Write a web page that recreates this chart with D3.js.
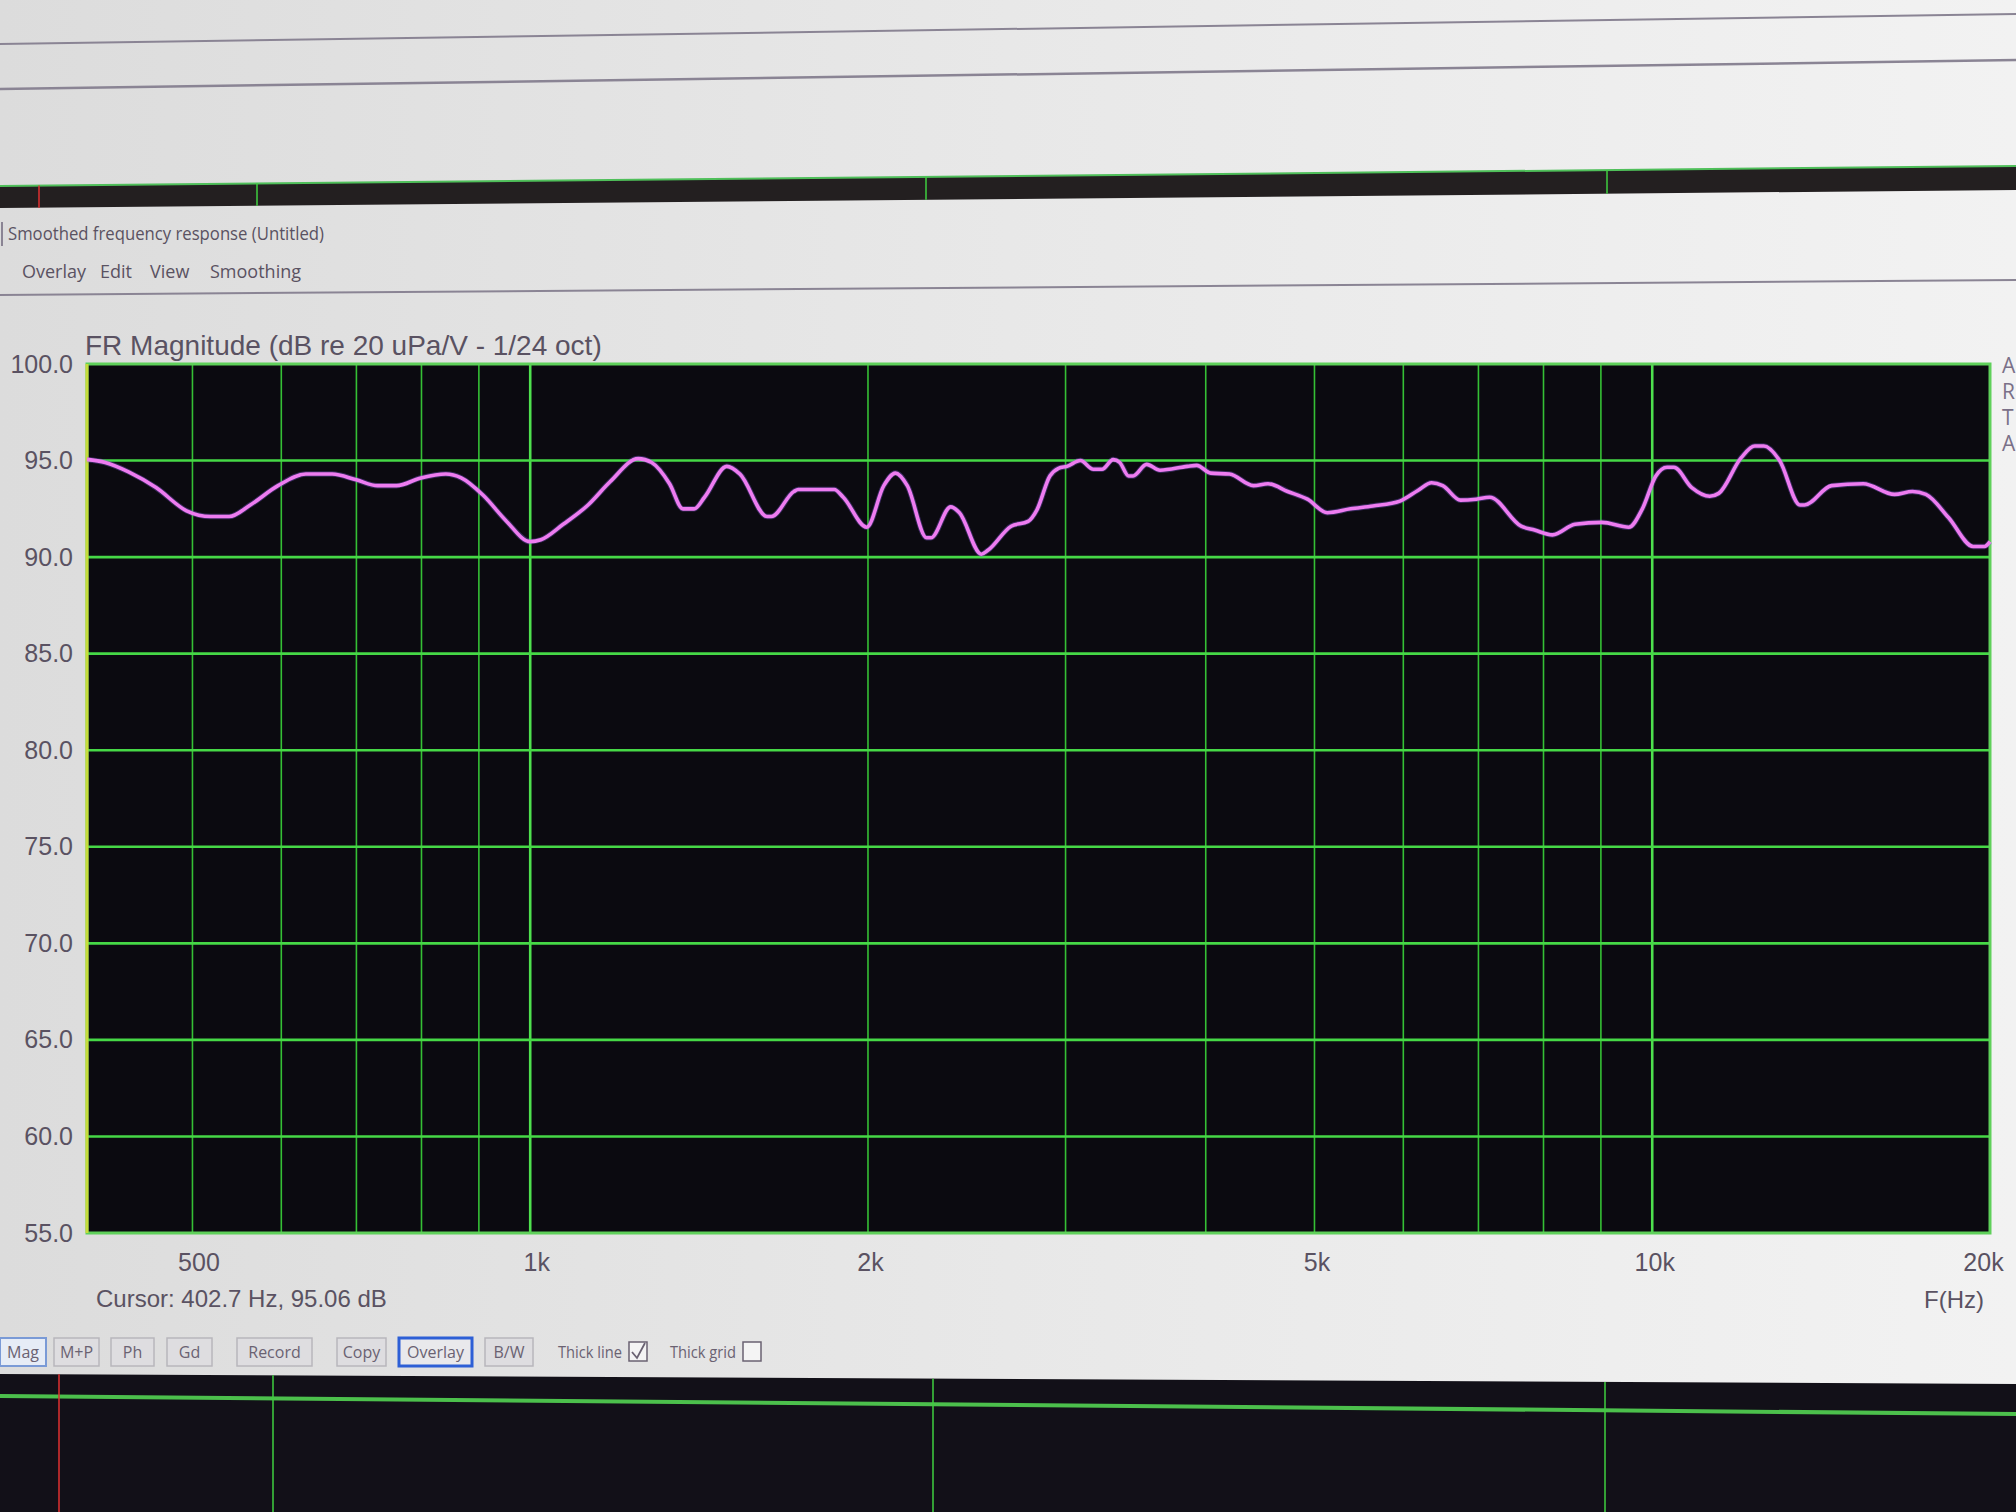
<!DOCTYPE html>
<html>
<head>
<meta charset="utf-8">
<script src="https://cdn.jsdelivr.net/npm/d3@7"></script>
<style>
html,body{margin:0;padding:0;background:#e6e6e6;overflow:hidden;}
svg{display:block;}
</style>
</head>
<body>
<svg id="chart" width="2016" height="1512"></svg>
<script>
// ---- data ----
const freqs = [402.7,418,439,464,494,519,539,563,596,631,666,700,731,760,799,841,868,908,951,1000,1022,1070,1126,1178,1248,1283,1331,1368,1400,1430,1497,1538,1626,1640,1718,1733,1866,1901,1995,2066,2116,2168,2256,2276,2370,2413,2524,2558,2683,2778,2829,2905,2957,3009,3093,3176,3234,3308,3353,3415,3446,3543,3642,3852,3926,4041,4200,4411,4545,4732,4928,5133,5384,5636,5959,6182,6359,6505,6747,6969,7162,7641,7855,8149,8534,9019,9532,9799,10074,10309,10453,10845,11252,11461,12004,12342,12573,12987,13541,13668,14451,15418,16442,17058,17536,18367,19323,19776,20000];
const magsDb = [95.06,94.9,94.4,93.6,92.4,92.1,92.1,92.7,93.7,94.3,94.3,94.0,93.7,93.7,94.1,94.3,94.1,93.2,91.9,90.8,90.9,91.7,92.7,93.9,95.1,94.9,93.8,92.5,92.5,93.1,94.7,94.3,92.1,92.1,93.4,93.5,93.5,93.1,91.55,93.7,94.35,93.7,91.0,91.0,92.6,92.3,90.15,90.35,91.6,91.85,92.45,94.2,94.6,94.7,95.0,94.55,94.55,95.05,94.9,94.2,94.2,94.8,94.5,94.7,94.75,94.35,94.3,93.7,93.8,93.4,93.0,92.3,92.5,92.65,92.9,93.45,93.85,93.7,92.95,93.0,93.1,91.6,91.4,91.15,91.7,91.8,91.55,92.5,94.2,94.65,94.65,93.6,93.15,93.3,95.15,95.75,95.75,95.0,92.7,92.7,93.7,93.8,93.25,93.4,93.25,92.05,90.55,90.55,90.8];
const yTickValues = [55,60,65,70,75,80,85,90,95,100];
const xTickValues = [500,1000,2000,5000,10000,20000];
const xTickLabels = ["500","1k","2k","5k","10k","20k"];
const xGridValues = [500,600,700,800,900,1000,2000,3000,4000,5000,6000,7000,8000,9000,10000];
const xMajorGrid = [1000,10000];
const freqDomain = [402.7,20000];
const dbDomain = [55,100];
const titleText = "FR Magnitude (dB re 20 uPa/V - 1/24 oct)";
const cursorText = "Cursor: 402.7 Hz, 95.06 dB";
const windowTitle = "Smoothed frequency response (Untitled)";
const menuItems = [["Overlay",22],["Edit",100],["View",150],["Smoothing",210]];
const buttons = [["Mag",0,46],["M+P",54,45],["Ph",111,43],["Gd",167,45],["Record",237,75],["Copy",337,49],["Overlay",399,73],["B/W",485,48]];

// ---- layout ----
const W = 2016, H = 1512;
const P = {left: 87, right: 1990, top: 364, bottom: 1233};
const svg = d3.select("#chart");
const textCol = "#5a5262";
const sans = "'Liberation Sans', Arial, sans-serif";
const ui = "'Open Sans', 'Noto Sans', sans-serif";

// background gradient (photo of a screen)
const defs = svg.append("defs");
const bg = defs.append("linearGradient").attr("id","bg").attr("x1","0").attr("x2","1").attr("y1","0").attr("y2","0");
bg.append("stop").attr("offset","0").attr("stop-color","#dcdcdc");
bg.append("stop").attr("offset","0.5").attr("stop-color","#e8e8e8");
bg.append("stop").attr("offset","1").attr("stop-color","#f2f2f2");
svg.append("rect").attr("width",W).attr("height",H).attr("fill","url(#bg)");

// top lines of the window behind
svg.append("line").attr("x1",0).attr("y1",44).attr("x2",W).attr("y2",14).attr("stroke","#8a8494").attr("stroke-width",2);
svg.append("line").attr("x1",0).attr("y1",89).attr("x2",W).attr("y2",60).attr("stroke","#8a8494").attr("stroke-width",2.5);

// dark band (window behind)
const band = svg.append("g");
band.append("path").attr("d",`M0,186 L${W},166 L${W},190 L0,208 Z`).attr("fill","#231f20");
band.append("line").attr("x1",0).attr("y1",186).attr("x2",W).attr("y2",166).attr("stroke","#4fbf5a").attr("stroke-width",2);
[[39,"#e03030"],[257,"#3fcf3f"],[926,"#3fcf3f"],[1607,"#3fcf3f"]].forEach(([x,c])=>{
  const yt = 186 - 20*x/W, yb = 208 - 18*x/W;
  band.append("line").attr("x1",x).attr("x2",x).attr("y1",yt).attr("y2",yb).attr("stroke",c).attr("stroke-width",1.5);
});

// window title & menu
svg.append("text").attr("x",8).attr("y",240).attr("font-family",ui).attr("font-size",18).attr("fill",textCol)
  .attr("textLength",316).attr("lengthAdjust","spacingAndGlyphs").text(windowTitle);
svg.append("line").attr("x1",2).attr("x2",2).attr("y1",222).attr("y2",246).attr("stroke","#8a8494").attr("stroke-width",2);
menuItems.forEach(([t,x])=>{
  svg.append("text").attr("x",x).attr("y",278).attr("font-family",ui).attr("font-size",18).attr("fill",textCol).text(t);
});
svg.append("line").attr("x1",0).attr("y1",295).attr("x2",W).attr("y2",280).attr("stroke","#8a8494").attr("stroke-width",2);

// chart title
svg.append("text").attr("x",85).attr("y",355).attr("font-family",sans).attr("font-size",28).attr("fill",textCol).text(titleText);

// ---- scales ----
const x = d3.scaleLog().domain(freqDomain).range([P.left,P.right]);
const y = d3.scaleLinear().domain(dbDomain).range([P.bottom,P.top]);

// plot area
svg.append("rect").attr("x",P.left).attr("y",P.top).attr("width",P.right-P.left).attr("height",P.bottom-P.top).attr("fill","#0b0a10");

// grid
const grid = svg.append("g");
grid.selectAll("line.v").data(xGridValues).join("line").attr("class","v")
  .attr("x1",d=>x(d)).attr("x2",d=>x(d)).attr("y1",P.top).attr("y2",P.bottom)
  .attr("stroke",d=>xMajorGrid.includes(d)?"#4ee04e":"#35c035")
  .attr("stroke-width",d=>xMajorGrid.includes(d)?2.6:1.6);
grid.selectAll("line.h").data(yTickValues.filter(v=>v>dbDomain[0]&&v<dbDomain[1])).join("line").attr("class","h")
  .attr("x1",P.left).attr("x2",P.right).attr("y1",d=>y(d)).attr("y2",d=>y(d))
  .attr("stroke","#46d846").attr("stroke-width",2.6);

// border
svg.append("rect").attr("x",P.left).attr("y",P.top).attr("width",P.right-P.left).attr("height",P.bottom-P.top)
  .attr("fill","none").attr("stroke","#5fd05a").attr("stroke-width",3);
svg.append("line").attr("x1",P.left).attr("x2",P.left).attr("y1",P.top).attr("y2",P.bottom).attr("stroke","#c8dc3c").attr("stroke-width",3);

// axes
const yAxis = d3.axisLeft(y).tickValues(yTickValues).tickSize(0).tickPadding(14).tickFormat(d3.format(".1f"));
const ya = svg.append("g").attr("transform",`translate(${P.left},0)`).call(yAxis);
ya.select(".domain").remove();
ya.selectAll("text").attr("font-family",sans).attr("font-size",25).attr("fill",textCol);

const xAxis = d3.axisBottom(x).tickValues(xTickValues).tickSize(0).tickPadding(20)
  .tickFormat(d=>xTickLabels[xTickValues.indexOf(d)]);
const xa = svg.append("g").attr("transform",`translate(0,${P.bottom})`).call(xAxis);
xa.select(".domain").remove();
xa.selectAll("text").attr("font-family",sans).attr("font-size",25).attr("fill",textCol)
  .attr("dx",d=>d===20000?-7:(d<=1000?6:2));

// curve
const data = freqs.map((f,i)=>({f, m: magsDb[i]}));
const line = d3.line().x(d=>x(d.f)).y(d=>y(d.m)).curve(d3.curveMonotoneX);
svg.append("path").datum(data).attr("d",line).attr("fill","none")
  .attr("stroke","#8a60e8").attr("stroke-width",5.5).attr("stroke-opacity",0.35);
svg.append("path").datum(data).attr("d",line).attr("fill","none")
  .attr("stroke","#ee7cf0").attr("stroke-width",3.6).attr("stroke-linejoin","round");

// cursor & unit
svg.append("text").attr("x",96).attr("y",1307).attr("font-family",sans).attr("font-size",24).attr("fill",textCol).text(cursorText);
svg.append("text").attr("x",1984).attr("y",1308).attr("text-anchor","end").attr("font-family",sans).attr("font-size",24).attr("fill",textCol).text("F(Hz)");

// ARTA vertical letters
["A","R","T","A"].forEach((c,i)=>{
  svg.append("text").attr("x",2002).attr("y",373+i*26).attr("font-family",ui).attr("font-size",21).attr("fill","#7a7088").text(c);
});

// buttons row
const by = 1338, bh = 28;
buttons.forEach(([t,bx,bw])=>{
  const g = svg.append("g");
  let stroke = "#b8b6bc", sw = 1.5, fill = "#dedde0";
  if (t==="Mag") { stroke = "#7a9ad6"; sw = 2; fill = "#e6ecf6"; }
  if (t==="Overlay") { stroke = "#2d5fd6"; sw = 3; fill = "#e9e9ec"; }
  g.append("rect").attr("x",bx).attr("y",by).attr("width",bw).attr("height",bh).attr("fill",fill).attr("stroke",stroke).attr("stroke-width",sw);
  g.append("text").attr("x",bx+bw/2).attr("y",by+20).attr("text-anchor","middle").attr("font-family",ui).attr("font-size",16).attr("fill","#6a6272").text(t);
});
svg.append("text").attr("x",558).attr("y",1358).attr("font-family",ui).attr("font-size",16).attr("fill","#6a6272")
  .attr("textLength",64).attr("lengthAdjust","spacingAndGlyphs").text("Thick line");
svg.append("rect").attr("x",629).attr("y",1342).attr("width",18).attr("height",19).attr("fill","#f4f4f4").attr("stroke","#6a6272").attr("stroke-width",1.5);
svg.append("path").attr("d","M632,1352 L637,1358 L645,1343").attr("fill","none").attr("stroke","#6a6272").attr("stroke-width",1.8);
svg.append("text").attr("x",670).attr("y",1358).attr("font-family",ui).attr("font-size",16).attr("fill","#6a6272")
  .attr("textLength",66).attr("lengthAdjust","spacingAndGlyphs").text("Thick grid");
svg.append("rect").attr("x",743).attr("y",1342).attr("width",18).attr("height",19).attr("fill","#f4f4f4").attr("stroke","#6a6272").attr("stroke-width",1.5);

// bottom dark area (window behind)
const bot = svg.append("g");
bot.append("path").attr("d",`M0,1374 L${W},1384 L${W},${H} L0,${H} Z`).attr("fill","#121018");
bot.append("line").attr("x1",0).attr("y1",1396).attr("x2",W).attr("y2",1414).attr("stroke","#4cc04c").attr("stroke-width",4);
[[59,"#e03030"],[273,"#3fcf3f"],[933,"#3fcf3f"],[1605,"#3fcf3f"]].forEach(([xx,c])=>{
  bot.append("line").attr("x1",xx).attr("x2",xx).attr("y1",1374+10*xx/W).attr("y2",H).attr("stroke",c).attr("stroke-width",1.5);
});
</script>
</body>
</html>
